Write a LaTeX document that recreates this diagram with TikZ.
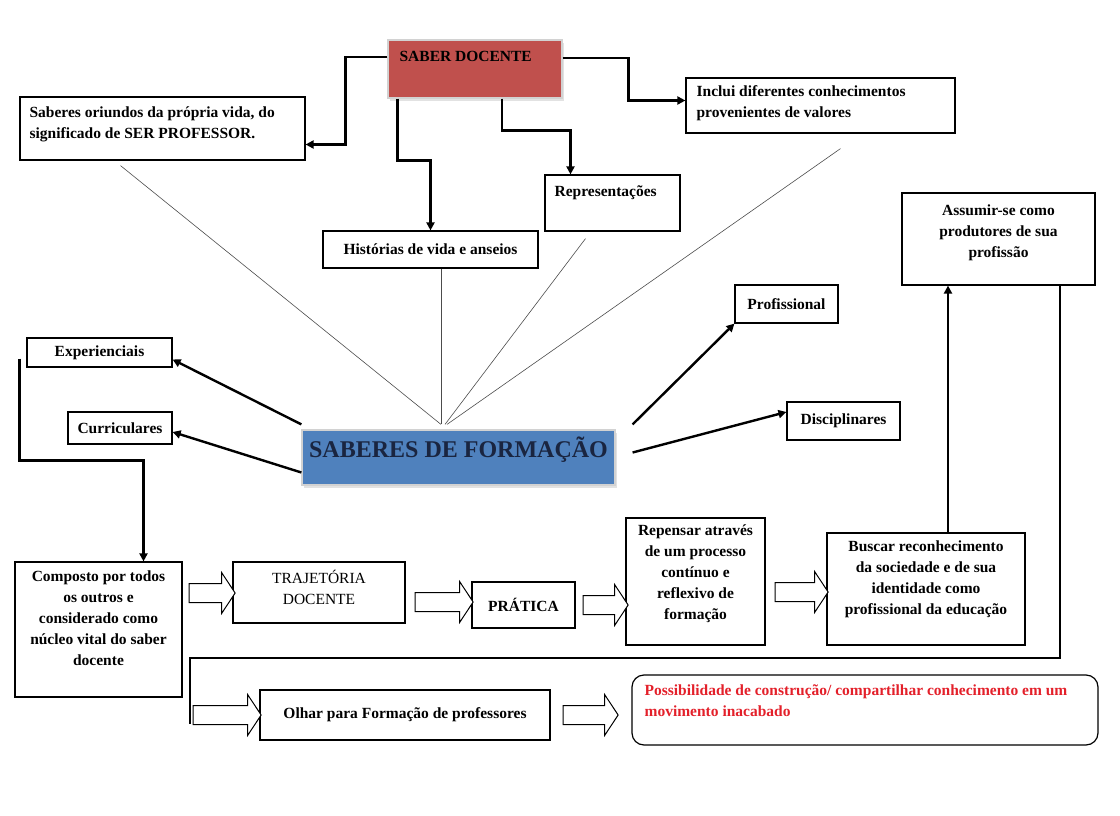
\documentclass[tikz,border=0pt]{standalone}
\usepackage{fontspec}
\setmainfont{Liberation Serif}
\usetikzlibrary{positioning,arrows.meta,shapes.arrows,shadows}
\definecolor{docred}{HTML}{C0504D}
\definecolor{formblue}{HTML}{4F81BD}
\definecolor{navy}{HTML}{1A2540}
\definecolor{possred}{HTML}{E3202A}

\begin{document}
\begin{tikzpicture}[x=1pt,y=-1pt,
  box/.style={draw, line width=1.2pt, inner sep=0pt, font=\bfseries\fontsize{15.5}{21}\selectfont},
  txt/.style={inner sep=0pt, align=left, font=\bfseries\fontsize{15.5}{21}\selectfont},
  ctxt/.style={txt, align=center},
  conn/.style={line width=2.4pt, -{Triangle[length=8pt,width=8pt]}},
  fine/.style={line width=0.6pt, black!70},
  barrow/.style={single arrow, draw, fill=white, line width=1pt, minimum height=#1, inner xsep=0pt, inner ysep=9pt,
    single arrow head extend=11pt, single arrow tip angle=113}]
\useasboundingbox (0,0) rectangle (1120,816);

% top part
\node[box, fill=docred, draw=gray!35, drop shadow={shadow xshift=2pt, shadow yshift=-3pt, fill=gray!45},
  minimum width=174pt, minimum height=58pt] (sd) at (475,69) {};
\node[txt, below right=12pt and 12pt of sd.north west] {SABER DOCENTE};

\node[box, minimum width=285pt, minimum height=63pt] (vida) at (162.5,128.5) {};
\node[txt, below right=10pt and 10pt of vida.north west] {Saberes oriundos da própria vida, do\\significado de SER PROFESSOR.};

\node[box, minimum width=269pt, minimum height=55pt] (inc) at (820.5,105.5) {};
\node[txt, below right=8pt and 11pt of inc.north west] {Inclui diferentes conhecimentos\\provenientes de valores};

\node[box, minimum width=135pt, minimum height=56pt] (rep) at (612.5,203) {};
\node[txt, below right=11pt and 10pt of rep.north west] {Representações};

\node[box, minimum width=215pt, minimum height=37pt] (hist) at (430.5,249.5) {Histórias de vida e anseios};

\draw[conn] ([yshift=12pt]sd.west) -- ++(-42,0) |- ([yshift=-16pt]vida.east);
\draw[conn] ([xshift=10pt]sd.south west) -- ++(0,62) -| (hist.north);
\draw[conn] ([xshift=27pt]sd.south) -- ++(0,32) -| ([xshift=-42pt]rep.north);
\draw[conn] ([yshift=11pt]sd.east) -- ++(66,0) |- ([yshift=5pt]inc.west);

% middle part
\node[box, fill=formblue, draw=gray!35, drop shadow={shadow xshift=2pt, shadow yshift=-3pt, fill=gray!45},
  minimum width=313pt, minimum height=55pt, text=navy, font=\bfseries\fontsize{24}{26}\selectfont,
  text height=10pt, text depth=10pt] (sf) at (458.5,457.5) {SABERES DE FORMAÇÃO};

\node[box, minimum width=103pt, minimum height=38pt] (prof) at (786.5,304) {Profissional};
\node[box, minimum width=113pt, minimum height=38pt] (disc) at (843.5,421) {Disciplinares};
\node[box, minimum width=145pt, minimum height=29pt] (exp) at (99.5,352.5) {Experienciais};
\node[box, minimum width=104pt, minimum height=32pt] (cur) at (120,428) {Curriculares};
\node[box, minimum width=193pt, minimum height=92pt] (assu) at (998.5,239) {};
\node[ctxt, below=12pt of assu.north] {Assumir-se como\\produtores de sua\\profissão};

\coordinate (top) at ([xshift=-17.5pt,yshift=5pt]sf.north);
\draw[fine] ([xshift=-42pt,yshift=-5pt]vida.south) -- (top);
\draw[fine] (hist.south -| top) -- (top);
\draw[fine] ([xshift=-27pt,yshift=-7pt]rep.south) -- ([xshift=4pt]top);
\draw[fine] ([xshift=20pt,yshift=-15pt]inc.south) -- ([xshift=6pt]top);

\draw[conn] ([yshift=5pt]sf.north west) -- ([yshift=-7pt]exp.east);
\draw[conn] ([yshift=-15pt]sf.west) -- ([yshift=-4pt]cur.east);
\draw[conn] ([xshift=17pt,yshift=5pt]sf.north east) -- (prof.south west);
\draw[conn] ([xshift=17pt,yshift=5pt]sf.east) -- ([yshift=9pt]disc.west);

% bottom part
\node[box, minimum width=167pt, minimum height=135pt] (comp) at (98.5,629.5) {};
\node[ctxt, below=9pt of comp.north] {Composto por todos\\os outros e\\considerado como\\núcleo vital do saber\\docente};
\node[box, minimum width=172pt, minimum height=61pt] (traj) at (319,592.5) {};
\node[ctxt, below=9pt of traj.north, font=\fontsize{15.5}{21}\selectfont] {TRAJETÓRIA\\DOCENTE};
\node[box, minimum width=103pt, minimum height=46pt] (prat) at (523.5,605) {PRÁTICA};
\node[box, minimum width=139pt, minimum height=127pt] (repe) at (695.5,581.5) {};
\node[ctxt, below=7pt of repe.north] {Repensar através\\de um processo\\contínuo e\\reflexivo de\\formação};
\node[box, minimum width=198pt, minimum height=112pt] (bus) at (926,589) {};
\node[ctxt, below=8pt of bus.north] {Buscar reconhecimento\\da sociedade e de sua\\identidade como\\profissional da educação};
\node[box, minimum width=290pt, minimum height=50pt] (olhar) at (405,715) {Olhar para Formação de professores};
\node[box, rounded corners=12pt, minimum width=466pt, minimum height=70pt] (poss) at (865,710) {};
\node[txt, text=possred, below right=10pt and 13pt of poss.north west]
  {Possibilidade de construção/ compartilhar conhecimento em um\\movimento inacabado};

\node[barrow=46pt] (a1) at (209,593) {};
\node[barrow=58pt] (a2) at (441,602) {};
\node[barrow=45pt] (a3) at (602.5,605) {};
\node[barrow=53pt] (a4) at (798.5,592) {};
\node[barrow=68pt] (a5) at (224,715) {};
\node[barrow=55pt] (a6) at (587.5,715) {};

\draw[conn] ([xshift=-7pt,yshift=-6pt]exp.west) -- ++(0,102) -| ([xshift=45pt]comp.north);
\draw[conn] ([xshift=22pt]bus.north) -- ([xshift=22pt]bus.north |- assu.south);
\coordinate (turn) at (190,658);
\draw[line width=1.3pt] ([xshift=61.5pt]assu.south) |- (turn) -- ++(0,66);
\end{tikzpicture}
\end{document}
